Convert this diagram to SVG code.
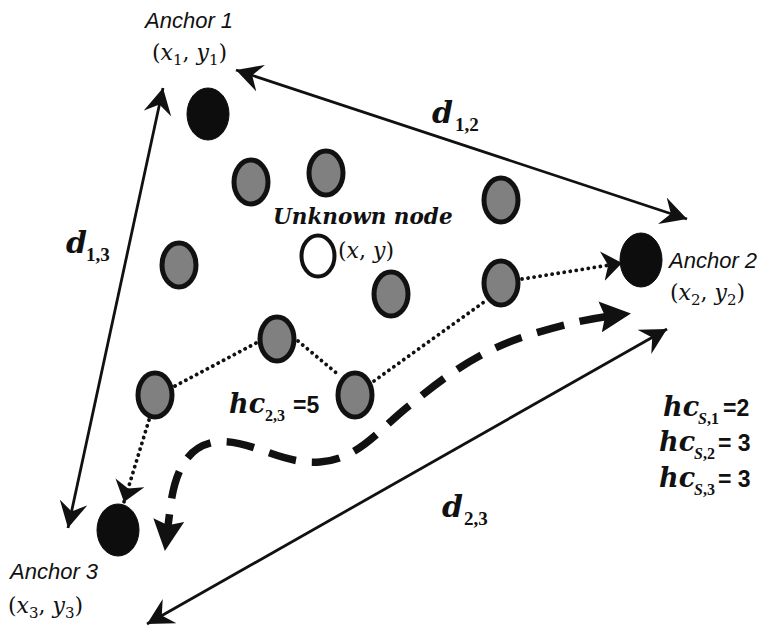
<svg xmlns="http://www.w3.org/2000/svg" width="760" height="628" viewBox="0 0 760 628">
<style>
.lbl{font-family:"Liberation Sans",Arial,sans-serif;font-style:italic;font-size:22px;fill:#111}
.math{font-family:"DejaVu Serif",serif;font-size:22px;fill:#111}
.it{font-style:italic}
.sub{font-size:15px}
.bi{font-family:"DejaVu Serif",serif;font-weight:bold;font-style:italic;fill:#111}
.bsub{font-family:"Liberation Serif",serif;font-weight:bold;font-size:19px;fill:#111}
.hsub{font-family:"Liberation Serif",serif;font-weight:bold;font-size:16px;fill:#111}
.num{font-family:"Liberation Sans",Arial,sans-serif;font-weight:bold;font-size:23px;fill:#111}
.gray{fill:#808080;stroke:#111;stroke-width:5}
.anchor{fill:#0d0d0d;stroke:#0d0d0d;stroke-width:1}
.unk{fill:#fff;stroke:#111;stroke-width:4}
.solid{fill:none;stroke:#111;stroke-width:2.8;marker-start:url(#ah);marker-end:url(#ah)}
.dot{fill:none;stroke:#111;stroke-width:3.8;stroke-linecap:round;stroke-dasharray:0.1 6}
.dash{fill:none;stroke:#111;stroke-width:7.5;stroke-dasharray:28 16;marker-start:url(#dh);marker-end:url(#dh)}
</style>
<defs>
<marker id="ah" viewBox="0 0 26 28" refX="26" refY="14" markerWidth="26" markerHeight="28" markerUnits="userSpaceOnUse" orient="auto-start-reverse"><path d="M0,0 L26,14 L0,28 L9,14 z" fill="#111"/></marker>
<marker id="dotah" viewBox="0 0 20 30" refX="20" refY="15" markerWidth="20" markerHeight="30" markerUnits="userSpaceOnUse" orient="auto"><path d="M0,0 L20,15 L0,30 L6,15 z" fill="#111"/></marker>
<marker id="dh" viewBox="0 0 31 31" refX="22" refY="15.5" markerWidth="31" markerHeight="31" markerUnits="userSpaceOnUse" orient="auto-start-reverse"><path d="M0,0 L31,15.5 L0,31 L5,15.5 z" fill="#111"/></marker>
</defs>
<rect width="760" height="628" fill="#fff"/>
<g id="connectors">
<line class="solid" x1="236" y1="70" x2="687" y2="219"/>
<line class="solid" x1="163" y1="88" x2="68" y2="528"/>
<line class="solid" x1="147" y1="624" x2="667" y2="329"/>
<path class="dot" d="M175,386 L258,342"/>
<path class="dot" d="M298,341 L340,376"/>
<path class="dot" d="M374,381 L484,302"/>
<path class="dot" d="M522,279 L622,263" marker-end="url(#dotah)"/>
<path class="dot" d="M149,420 L124,502" marker-end="url(#dotah)"/>
<path class="dash" d="M166,542 L170,510 C174,475 185,447 215,442 C250,438 280,465 320,462 C360,459 380,428 410,405 C450,372 480,352 520,338 C560,325 590,318 622,314.5"/>
</g>
<g id="anchor1">
<ellipse class="anchor" cx="208" cy="114" rx="21" ry="26"/>
<text class="lbl" x="145" y="28">Anchor 1</text>
<text class="math" x="152" y="60">(<tspan class="it">x</tspan><tspan class="sub" dy="5">1</tspan><tspan dy="-5">, </tspan><tspan class="it">y</tspan><tspan class="sub" dy="5">1</tspan><tspan dy="-5">)</tspan></text>
</g>
<g id="anchor2">
<ellipse class="anchor" cx="641" cy="260" rx="21" ry="27"/>
<text class="lbl" x="669" y="268">Anchor 2</text>
<text class="math" x="670" y="300">(<tspan class="it">x</tspan><tspan class="sub" dy="5">2</tspan><tspan dy="-5">, </tspan><tspan class="it">y</tspan><tspan class="sub" dy="5">2</tspan><tspan dy="-5">)</tspan></text>
</g>
<g id="anchor3">
<ellipse class="anchor" cx="118" cy="530" rx="21" ry="26"/>
<text class="lbl" x="10" y="579">Anchor 3</text>
<text class="math" x="8" y="613">(<tspan class="it">x</tspan><tspan class="sub" dy="5">3</tspan><tspan dy="-5">, </tspan><tspan class="it">y</tspan><tspan class="sub" dy="5">3</tspan><tspan dy="-5">)</tspan></text>
</g>
<g id="unknown">
<ellipse class="unk" cx="318" cy="256" rx="16.5" ry="20.5"/>
<text class="bi" x="273" y="224" font-size="21.5">Unknown node</text>
<text class="math" x="338" y="258">(<tspan class="it">x</tspan>, <tspan class="it">y</tspan>)</text>
</g>
<g id="n1"><ellipse class="gray" cx="251" cy="182" rx="17" ry="22"/></g>
<g id="n2"><ellipse class="gray" cx="326" cy="173" rx="17" ry="22"/></g>
<g id="n3"><ellipse class="gray" cx="501" cy="200" rx="17" ry="22"/></g>
<g id="n4"><ellipse class="gray" cx="179" cy="265" rx="17" ry="22"/></g>
<g id="n5"><ellipse class="gray" cx="391" cy="294" rx="17" ry="22"/></g>
<g id="n6"><ellipse class="gray" cx="501" cy="283" rx="17" ry="22"/></g>
<g id="n7"><ellipse class="gray" cx="277" cy="339" rx="17" ry="22"/></g>
<g id="n8"><ellipse class="gray" cx="155" cy="395" rx="17" ry="22"/></g>
<g id="n9"><ellipse class="gray" cx="355" cy="395" rx="17" ry="22"/></g>
<g id="labels">
<text class="bi" x="432" y="123" font-size="30">d</text><text class="bsub" x="455" y="131">1,2</text>
<text class="bi" x="66" y="253" font-size="30">d</text><text class="bsub" x="86" y="261">1,3</text>
<text class="bi" x="442" y="517" font-size="30">d</text><text class="bsub" x="464" y="525">2,3</text>
<text class="bi" x="229" y="413" font-size="27">hc</text><text class="hsub" x="265" y="421">2,3</text><text class="num" x="293" y="413">=5</text>
<text class="bi" x="663" y="416" font-size="27">hc</text><text class="hsub" x="698" y="424"><tspan font-style="italic">S</tspan>,1</text><text class="num" x="723" y="416">=2</text>
<text class="bi" x="659" y="451" font-size="27">hc</text><text class="hsub" x="694" y="459"><tspan font-style="italic">S</tspan>,2</text><text class="num" x="718" y="451">= 3</text>
<text class="bi" x="659" y="487" font-size="27">hc</text><text class="hsub" x="694" y="495"><tspan font-style="italic">S</tspan>,3</text><text class="num" x="718" y="487">= 3</text>
</g>
</svg>
